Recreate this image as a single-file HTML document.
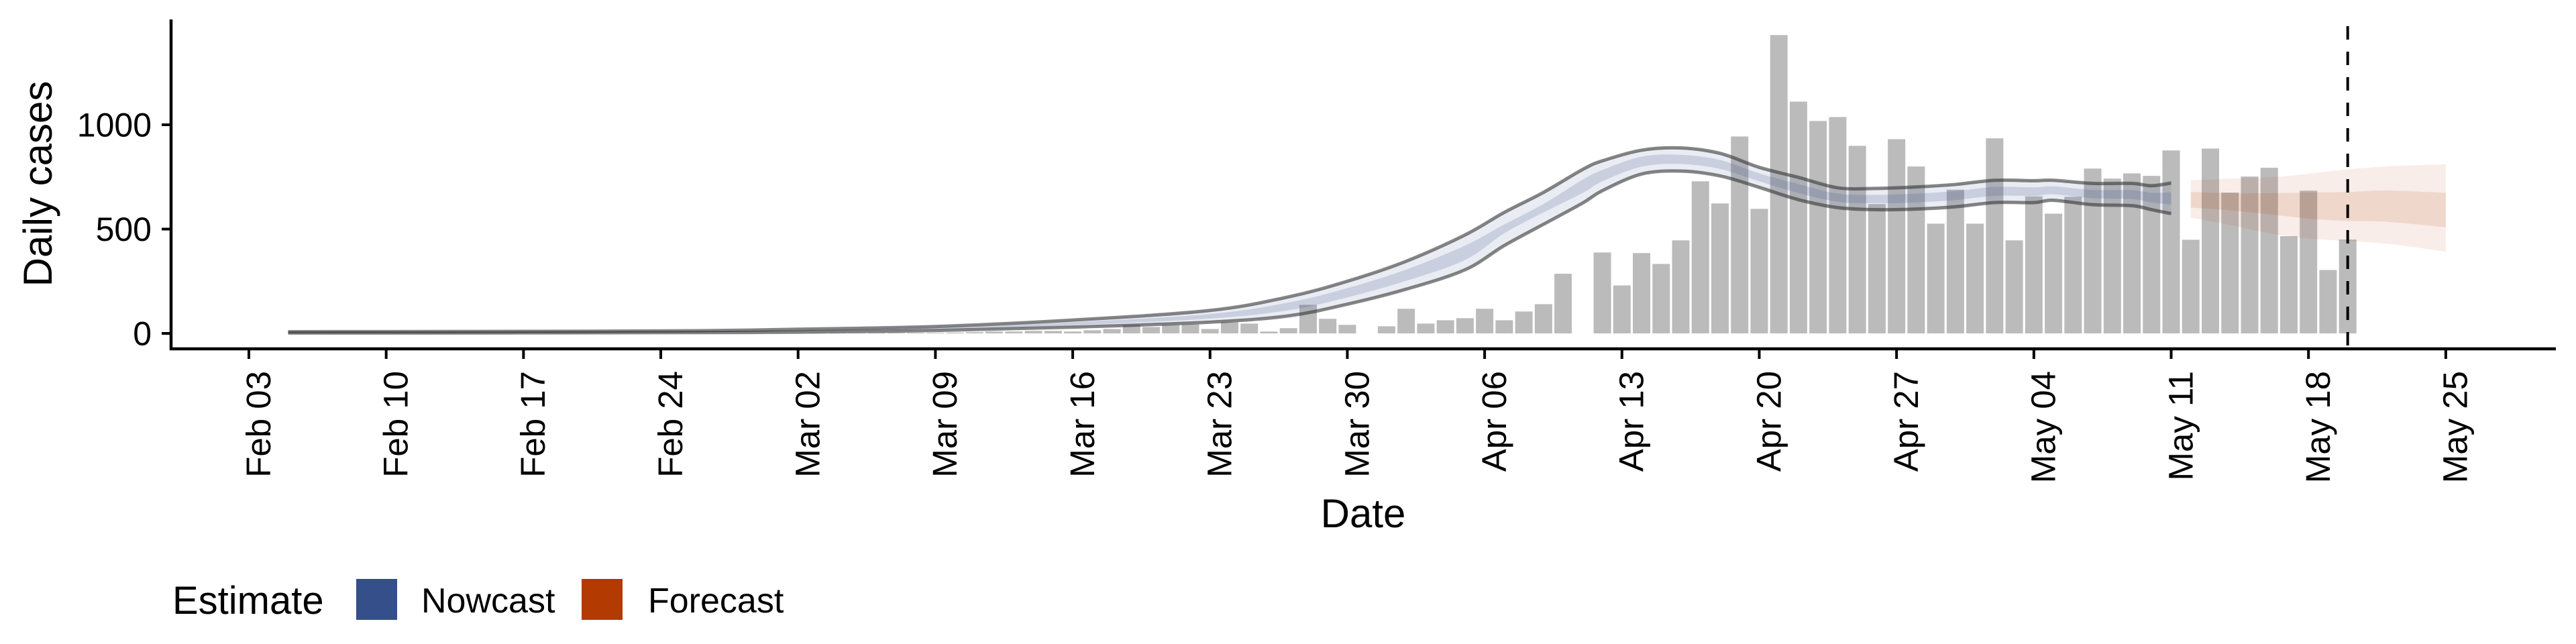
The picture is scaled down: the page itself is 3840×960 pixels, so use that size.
<!DOCTYPE html>
<html><head><meta charset="utf-8"><style>
html,body{margin:0;padding:0;background:#fff;}
svg{display:block;font-family:"Liberation Sans",sans-serif;}
</style></head><body>
<svg id="chart" width="3840" height="960" viewBox="0 0 3840 960">
<g id="bars"></g>
<g id="nowcast"></g>
<g id="forecast"></g>
<g id="axes"></g>
<text x="56" y="274" font-size="60" text-anchor="middle" transform="rotate(-90 56 274)" dy="0.35em">Daily cases</text>
<text x="2032" y="786" font-size="60" text-anchor="middle">Date</text>
<g>
<text x="257" y="915" font-size="58">Estimate</text>
<rect x="531" y="863" width="61" height="61" fill="#354f8a"/>
<text x="628" y="913" font-size="52">Nowcast</text>
<rect x="867" y="863" width="61" height="61" fill="#b33a00"/>
<text x="966" y="913" font-size="52">Forecast</text>
</g>
</svg>
<script>
// Bar data: daily reported cases from Mar 01 (day 27 after Feb 03)
const barStartDay = 27;
const barValues = [1,1,2,2,2,3,3,3,3,4,6,9,9,12,12,9,15,21,41,31,41,44,21,54,47,9,25,137,70,41,0,
34,118,47,63,73,118,63,105,140,286,0,388,230,385,333,446,729,623,944,597,1430,1111,1018,1037,899,620,931,800,526,689,
526,935,446,657,574,655,790,742,767,755,877,449,886,675,752,794,466,684,304,450];
// Nowcast (days since Feb 03)
const nowDays = [2,9,16,23,28,35,42,49,53,56,59,62,64,66,68,69,71,73,75,77,79,81,83,85,87,89,91,92,94,96,97,98];
const nowHi90 = [8,9,10,13,20,33,64,110,175,250,346,472,580,676,786,827,878,889,863,796,748,698,695,702,714,734,732,734,719,719,708,721];
const nowLo90 = [2,2,3,4,6,14,30,54,84,140,212,305,421,523,625,684,764,778,755,700,641,603,593,596,607,627,627,638,617,612,593,574];
const nowHi50 = [6,7,8,10,16,27,54,93,148,217,306,421,522,620,737,783,847,856,831,767,716,670,664,670,682,702,700,705,688,687,674,677];
const nowLo50 = [4,4,5,7,10,20,40,71,111,173,252,352,480,580,673,729,799,812,788,729,673,631,624,628,639,659,659,667,648,644,627,618];
// Forecast
const fcDays = [99,101,103,105,107,109,112];
const fcHi90 = [734,742,748,765,786,800,811];
const fcLo90 = [555,520,480,455,443,430,392];
const fcHi50 = [678,672,672,675,678,685,674];
const fcLo50 = [603,590,571,550,539,535,509];
// Axis ticks
const yTicks = [0,500,1000];
const xTickLabels = ["Feb 03","Feb 10","Feb 17","Feb 24","Mar 02","Mar 09","Mar 16","Mar 23","Mar 30","Apr 06","Apr 13","Apr 20","Apr 27","May 04","May 11","May 18","May 25"];
const dataDay = 107; // May 20 dashed line

const NS="http://www.w3.org/2000/svg";
function X(d){return 371 + d*29.24;}
function Y(v){return 497 - v*0.311;}
function mk(tag,attrs,parent){const e=document.createElementNS(NS,tag);for(const k in attrs)e.setAttribute(k,attrs[k]);parent.appendChild(e);return e;}
function smooth(pts,start){
  let s=start?'M'+pts[0][0]+','+pts[0][1]:' L'+pts[0][0]+','+pts[0][1];
  for(let i=0;i<pts.length-1;i++){
    const p0=pts[i-1]||pts[i],p1=pts[i],p2=pts[i+1],p3=pts[i+2]||p2;
    const c1=[p1[0]+(p2[0]-p0[0])/6,p1[1]+(p2[1]-p0[1])/6];
    const c2=[p2[0]-(p3[0]-p1[0])/6,p2[1]-(p3[1]-p1[1])/6];
    s+=' C'+c1[0]+','+c1[1]+' '+c2[0]+','+c2[1]+' '+p2[0]+','+p2[1];
  }
  return s;
}

const gb=document.getElementById('bars');
barValues.forEach((v,i)=>{
  const d=barStartDay+i;
  if(v<=0) return;
  const r=mk('rect',{x:X(d)-13,y:Y(v),width:26,height:Y(0)-Y(v),fill:'#bbbbbb'},gb);
  
  
});

function band(days,hi,lo,fill,op,parent,name){
  const up=days.map((d,i)=>[X(d),Y(hi[i])]);
  const dn=days.map((d,i)=>[X(d),Y(lo[i])]).reverse();
  const p=smooth(up,true)+smooth(dn,false)+' Z';
  const e=mk('path',{d:p,fill:fill,'fill-opacity':op},parent);
  
  
}
function line(days,vals,parent,name){
  const e=mk('path',{d:smooth(days.map((d,i)=>[X(d),Y(vals[i])]),true),fill:'none',stroke:'#333','stroke-opacity':0.6,'stroke-width':5,'stroke-linejoin':'round'},parent);
  
  
}
const gn=document.getElementById('nowcast');
band(nowDays,nowHi90,nowLo90,'#354f8a',0.11,gn,'nowcast-outer-band');
band(nowDays,nowHi50,nowLo50,'#354f8a',0.18,gn,'nowcast-inner-band');
line(nowDays,nowHi90,gn,'nowcast-upper-line');
line(nowDays,nowLo90,gn,'nowcast-lower-line');
const gf=document.getElementById('forecast');
band(fcDays,fcHi90,fcLo90,'#b33a00',0.09,gf,'forecast-outer-band');
band(fcDays,fcHi50,fcLo50,'#b33a00',0.12,gf,'forecast-inner-band');

const ga=document.getElementById('axes');
const dl=mk('line',{x1:X(dataDay),x2:X(dataDay),y1:39,y2:520,stroke:'#000','stroke-width':4,'stroke-dasharray':'20 18'},ga);


const ya=mk('line',{x1:255,x2:255,y1:29,y2:522,stroke:'#000','stroke-width':4.5},ga);


const xa=mk('line',{x1:253,x2:3810,y1:520,y2:520,stroke:'#000','stroke-width':4.5},ga);


yTicks.forEach(v=>{
  const t=mk('line',{x1:241,x2:255,y1:Y(v),y2:Y(v),stroke:'#000','stroke-width':4},ga);
  
  
  const l=mk('text',{x:226,y:Y(v),'font-size':50,'text-anchor':'end',dy:'0.35em'},ga);
  l.textContent=v;
  
  
});
xTickLabels.forEach((s,i)=>{
  const x=X(i*7);
  const t=mk('line',{x1:x,x2:x,y1:520,y2:535,stroke:'#000','stroke-width':4},ga);
  
  
  const tx=x+14, ty=553;
  const l=mk('text',{x:tx,y:ty,'font-size':51,'text-anchor':'end',dy:'0.35em',transform:'rotate(-90 '+tx+' '+ty+')'},ga);
  l.textContent=s;
  
  
});
</script>
</body></html>
